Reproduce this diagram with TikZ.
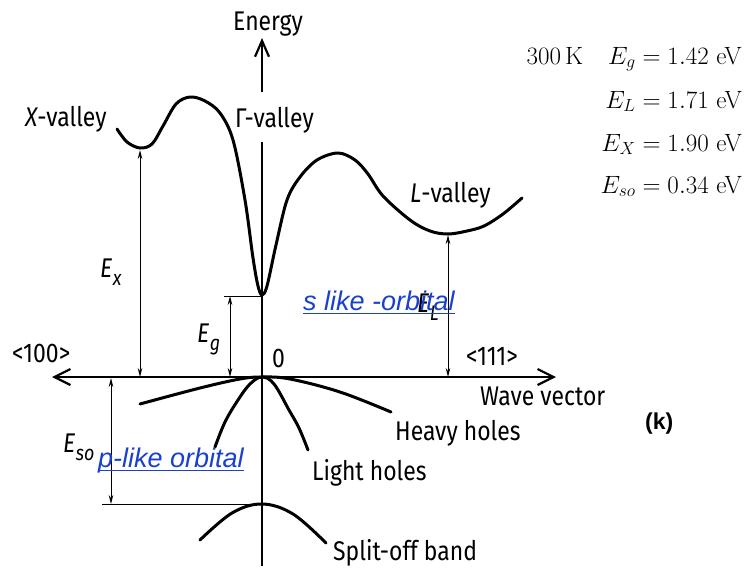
\RequirePackage{fix-cm}
\documentclass[tikz,border=0pt]{standalone}
\usepackage{fontspec}
\usetikzlibrary{arrows.meta}
\newfontfamily\labfont[FakeStretch=0.85]{Fira Sans}
\newfontfamily\arialfont{Liberation Sans}
\definecolor{linkblue}{RGB}{25,65,205}
\newcommand{\Lsub}[2]{#1\kern0.5pt\raisebox{-0.3em}{\fontsize{21}{21}\selectfont #2}}
\tikzset{
  lab/.style={font=\labfont\fontsize{27}{30}\selectfont, inner sep=0pt, anchor=base west},
  band/.style={line width=3pt, line cap=round, line join=round},
  axis/.style={line width=2.2pt, {Straight Barb[length=16pt,width=16pt,line width=2.2pt]}-{Straight Barb[length=16pt,width=16pt,line width=2.2pt]}},
  meas/.style={line width=1pt, {Stealth[length=9pt,width=4.5pt]}-{Stealth[length=9pt,width=4.5pt]}},
  thin line/.style={line width=1pt},
  link/.style={font=\arialfont\itshape\fontsize{27}{30}\selectfont, text=linkblue, inner sep=0pt, anchor=base west},
  linkline/.style={draw=linkblue, line width=1.4pt},
  tab/.style={font=\fontsize{25}{30}\selectfont, inner sep=0pt, anchor=base east}
}
\begin{document}
\begin{tikzpicture}[x=1pt,y=-1pt]
\useasboundingbox (0,0) rectangle (746,570);
% axes
\coordinate (xl) at (52,377);
\coordinate (xr) at (556,377);
\coordinate (ytop) at (262,38);
\coordinate (ybot) at (262,566);
\coordinate (ygapb) at (262,142);
\coordinate (ygapt) at (262,92);
\draw[axis] (xl) -- (xr);
\draw[line width=2.2pt] (ybot) -- (ygapb);
\draw[line width=2.2pt, -{Straight Barb[length=16pt,width=14pt,line width=2.2pt]}] (ygapt) -- (ytop);
% conduction band
\draw[band] plot[smooth, tension=0.55] coordinates {
 (117,129) (127,142) (140,148) (152,144) (163,126) (176,104) (190,97) (205,101) (220,113) (233,140) (245,200) (253,258) (258,286) (262,295) (267,286) (276,245) (287,200) (300,177) (317,160) (338,153) (355,160) (368,174) (383,196) (410,220) (430,231) (448,234) (467,231) (484,226) (503,214) (522,198)};
% valence bands
\draw[band] plot[smooth, tension=0.6] coordinates {(140,404) (200,388) (240,379) (262,377) (290,379) (340,392) (391,412)};
\draw[band] plot[smooth, tension=0.6] coordinates {(215,447) (225,422) (238,400) (250,384) (262,377) (274,384) (289,410) (299,428) (308,450)};
\draw[band] plot[smooth, tension=0.6] coordinates {(200,540) (232,513) (262,504) (293,514) (326,543)};
% measurement lines
\coordinate (xmin) at (140,150);
\coordinate (xbase) at (140,377);
\coordinate (lmin) at (448,235);
\coordinate (lbase) at (448,377);
\coordinate (gmin) at (230,296);
\coordinate (gbase) at (230,377);
\coordinate (gleft) at (224,296);
\coordinate (gaxis) at (262,296);
\coordinate (sotop) at (111,378);
\coordinate (sobot) at (111,504);
\coordinate (soleft) at (102,504);
\coordinate (soaxis) at (262,504);
\draw[meas] (xbase) -- (xmin);
\draw[meas] (lbase) -- (lmin);
\draw[meas] (gbase) -- (gmin);
\draw[thin line] (gleft) -- (gaxis);
\draw[meas] (sotop) -- (sobot);
\draw[thin line] (soleft) -- (soaxis);
% labels
\node[lab] (energy) at (233,30) {Energy};
\node[lab] (xval) at (25,126) {\itshape X\upshape -valley};
\node[lab] (gval) at (235,127) {Γ-valley};
\node[lab] (lval) at (410,202) {\itshape L\upshape -valley};
\node[lab] (ex) at (100,277) {\itshape\Lsub{E}{x}};
\node[lab] (eg) at (197,342) {\itshape\Lsub{E}{g}};
\node[lab] (el) at (417,312) {\itshape\Lsub{E}{L}};
\node[lab] (eso) at (63,452) {\itshape\Lsub{E}{so}};
\node[lab] (zero) at (272,367) {0};
\node[lab] (d100) at (12,362) {<100>};
\node[lab] (d111) at (466,365) {<111>};
\node[lab] (wv) at (480,405) {Wave vector};
\node[lab] (hh) at (395,440) {Heavy holes};
\node[lab] (lh) at (312,480) {Light holes};
\node[lab] (so) at (333,560) {Split-off band};
\node[font=\arialfont\bfseries\fontsize{23}{26}\selectfont, inner sep=0pt, anchor=base west] (k) at (645,429) {(k)};
% link texts
\node[link] (slike) at (303,310) {s like -orbital};
\draw[linkline] ([yshift=-3.5pt]slike.base west) -- ([yshift=-3.5pt]slike.base east);
\node[link] (plike) at (98,467) {p-like orbital};
\draw[linkline] ([yshift=-3.5pt]plike.base west) -- ([yshift=-3.5pt]plike.base east);
% table
\node[tab] (t1) at (742,64) {300\,K\quad $E_g = 1.42$ eV};
\node[tab] (t2) at (742,108) {$E_L = 1.71$ eV};
\node[tab] (t3) at (742,151) {$E_X = 1.90$ eV};
\node[tab] (t4) at (742,193) {$E_{so} = 0.34$ eV};
\end{tikzpicture}
\end{document}
